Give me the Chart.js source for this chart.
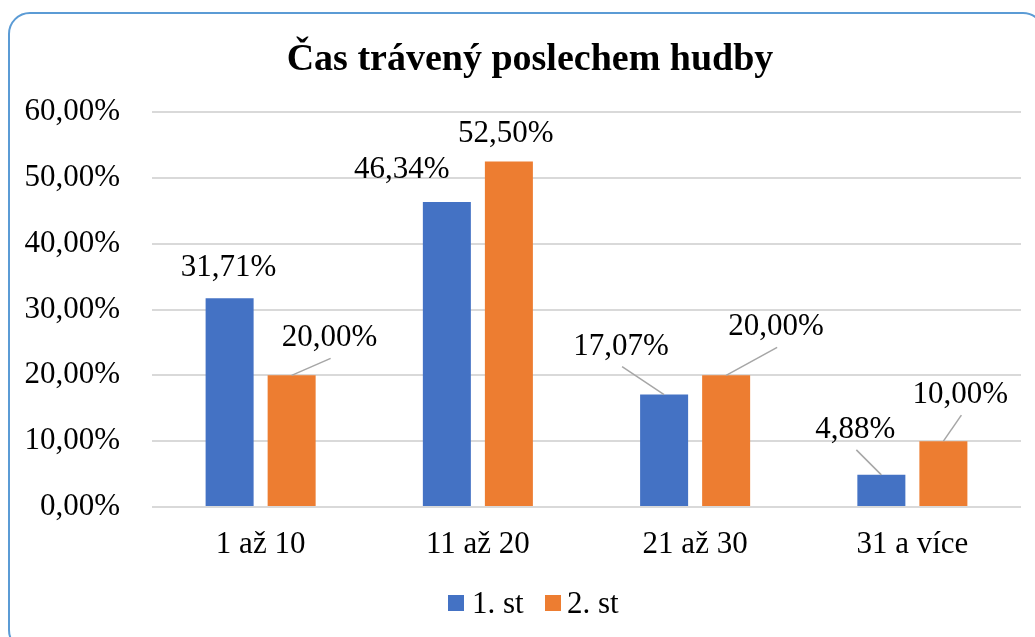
<!DOCTYPE html>
<html>
<head>
<meta charset="utf-8">
<script src="https://cdn.jsdelivr.net/npm/chart.js@4"></script>
<style>
  html, body { margin: 0; padding: 0; background: #fff; overflow: hidden; }
  #wrap { position: relative; width: 1035px; height: 637px; overflow: hidden; }
  #frame { position: absolute; left: 8px; top: 12px; width: 1037px; height: 640px; box-sizing: border-box;
           border: 2px solid #5B9BD5; border-radius: 22px; }
  canvas { position: absolute; left: 0; top: 0; }
</style>
</head>
<body>
<div id="wrap">
  <div id="frame"></div>
  <canvas id="c" width="1035" height="637"></canvas>
</div>
<script>
const titleText = 'Čas trávený poslechem hudby';
const categories = ['1 až 10', '11 až 20', '21 až 30', '31 a více'];
const seriesNames = ['1. st', '2. st'];
const series1 = [31.71, 46.34, 17.07, 4.88];
const series2 = [20.00, 52.50, 20.00, 10.00];
const yTicks = [0, 10, 20, 30, 40, 50, 60];

const FONT = '"Liberation Serif", "Times New Roman", serif';
const fmt = v => v.toFixed(2).replace('.', ',') + '%';

// label offsets relative to bar top-centre (pixels), and whether a leader line is drawn
const labelOffsets = [
  [[-1, -30], [-45, -32], [-43, -48], [-26, -45]],
  [[38, -37], [-3, -28], [50, -48], [17, -46]]
];
const labelLeaders = [
  [false, false, true, true],
  [true, false, true, true]
];

const barLabels = {
  id: 'barLabels',
  afterDatasetsDraw(chart) {
    const ctx = chart.ctx;
    ctx.save();
    ctx.font = '31px ' + FONT;
    ctx.fillStyle = '#000';
    ctx.textAlign = 'center';
    ctx.textBaseline = 'middle';
    chart.data.datasets.forEach((ds, di) => {
      const meta = chart.getDatasetMeta(di);
      meta.data.forEach((bar, i) => {
        const off = labelOffsets[di][i];
        const lx = bar.x + off[0], ly = bar.y + off[1];
        if (labelLeaders[di][i]) {
          ctx.beginPath();
          ctx.strokeStyle = '#A6A6A6';
          ctx.lineWidth = 1.5;
          ctx.moveTo(lx + 1, ly + 20);
          ctx.lineTo(bar.x, bar.y);
          ctx.stroke();
        }
        ctx.fillText(fmt(ds.data[i]), lx, ly);
      });
    });
    ctx.restore();
  }
};

// title and legend, centred on the frame like the original
const titleAndLegend = {
  id: 'titleAndLegend',
  afterDraw(chart) {
    const ctx = chart.ctx;
    ctx.save();
    ctx.fillStyle = '#000';
    ctx.font = 'bold 38px ' + FONT;
    ctx.textAlign = 'center';
    ctx.textBaseline = 'alphabetic';
    ctx.fillText(titleText, 530, 70);

    const boxX = [448, 545];
    const textX = [472, 567];
    ctx.font = '31px ' + FONT;
    ctx.textAlign = 'left';
    chart.data.datasets.forEach((ds, i) => {
      ctx.fillStyle = ds.backgroundColor;
      ctx.fillRect(boxX[i], 595, 16, 16);
      ctx.fillStyle = '#000';
      ctx.fillText(ds.label, textX[i], 613);
    });
    ctx.restore();
  }
};

new Chart(document.getElementById('c'), {
  type: 'bar',
  data: {
    labels: categories,
    datasets: [
      { label: seriesNames[0], data: series1, backgroundColor: '#4472C4' },
      { label: seriesNames[1], data: series2, backgroundColor: '#ED7D31' }
    ]
  },
  options: {
    responsive: false,
    animation: false,
    devicePixelRatio: 1,
    layout: { padding: { left: 0, right: 14, top: 112, bottom: 60 } },
    datasets: { bar: { categoryPercentage: 0.571, barPercentage: 0.774 } },
    plugins: {
      title: { display: false },
      legend: { display: false },
      tooltip: { enabled: false }
    },
    scales: {
      x: {
        grid: { display: false, drawTicks: false },
        border: { display: false },
        ticks: { color: '#000', font: { family: FONT, size: 31 }, padding: 19, maxRotation: 0 },
        afterFit: s => { s.height = 70; }
      },
      y: {
        min: 0, max: 60,
        afterBuildTicks: s => { s.ticks = yTicks.map(v => ({ value: v })); },
        grid: { color: '#D9D9D9', lineWidth: 2, drawTicks: false },
        border: { display: false },
        ticks: { color: '#000', font: { family: FONT, size: 31 }, padding: 32, callback: v => fmt(v) },
        afterFit: s => { s.width = 152; }
      }
    }
  },
  plugins: [barLabels, titleAndLegend]
});
</script>
</body>
</html>
